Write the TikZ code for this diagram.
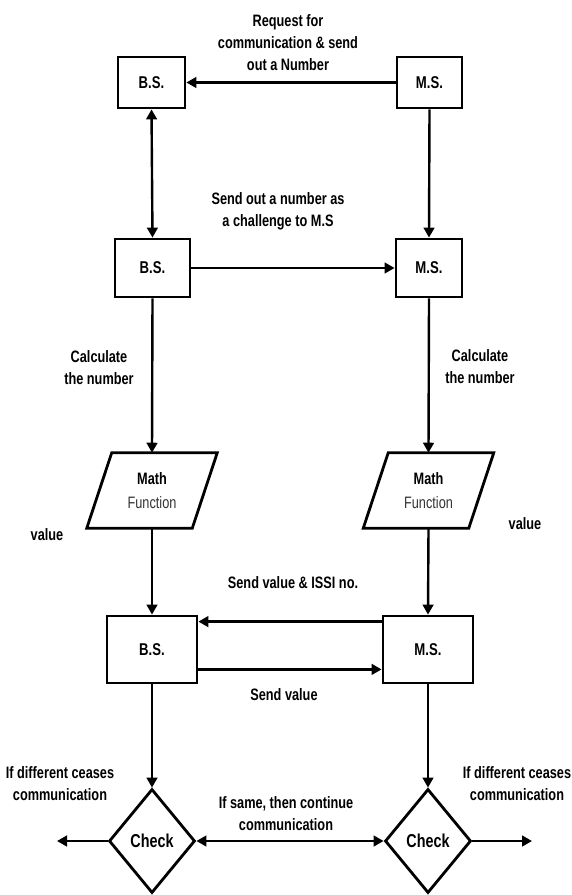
\documentclass[tikz,border=0pt]{standalone}
\usepackage{fontspec}
\setmainfont{Liberation Sans}[FakeStretch=0.77]
\usetikzlibrary{arrows.meta,shapes.geometric,calc}
\begin{document}
\begin{tikzpicture}[x=0.75pt,y=-0.75pt,
  font=\fontsize{12.4}{16.5}\selectfont\bfseries,
  outline/.style={draw, line width=2.1pt, line join=miter},
  box/.style={outline, inner sep=0pt, font=\fontsize{12.8}{15}\selectfont\bfseries},
  decision/.style={diamond, outline, inner sep=0pt, minimum width=64.5pt, minimum height=78pt,
    font=\fontsize{14}{16}\selectfont\bfseries},
  tip/.tip={Triangle[length=7.5pt,width=8pt]},
  arr/.style={line width=1.8pt, -tip},
  darr/.style={line width=1.8pt, tip-tip},
  lbl/.style={align=center, inner sep=0pt}]
\useasboundingbox (0,0) rectangle (571,895);

% first exchange: M.S. requests, B.S. answers
\node[box, minimum width=50.25pt, minimum height=38.25pt] (bs1) at (151.5,82.5) {B.S.};
\node[box, minimum width=48.75pt, minimum height=38.25pt] (ms1) at (429.5,82.5) {M.S.};
\node[box, minimum width=56.25pt, minimum height=43.5pt] (bs2) at (152.5,268) {B.S.};
\node[box, minimum width=49.5pt, minimum height=43.5pt] (ms2) at (429,268) {M.S.};

\draw[arr] (ms1.west) -- (bs1.east);
\draw[darr] (bs1.south) -- (bs2.north);
\draw[arr] (ms1.south) -- (ms2.north);
\draw[arr] (bs2.east) -- (ms2.west);

\node[lbl] (req) at (288,43) {Request for\\communication \& send\\out a Number};
\node[lbl] (chal) at (278,211.5) {Send out a number as\\a challenge to M.S};

% math function blocks (parallelograms)
\foreach \n/\cx in {mf1/152, mf2/428.5} {
  \node[lbl, minimum width=78.75pt, minimum height=56.25pt,
        font=\fontsize{12.4}{18}\selectfont\bfseries] (\n) at (\cx,490.5)
        {Math\\{\mdseries\color{black!80}Function}};
  \draw[outline] ($(\n.north west)+(12.5,0)$) -- ($(\n.north east)+(12.5,0)$)
    -- ($(\n.south east)+(-12.5,0)$) -- ($(\n.south west)+(-12.5,0)$) -- cycle;
}

\draw[arr] (bs2.south) -- (mf1.north);
\draw[arr] (ms2.south) -- (mf2.north);
\node[lbl] (calcL) at (99,368) {Calculate\\the number};
\node[lbl] (calcR) at (480,366.5) {Calculate\\the number};
\node[lbl] (valL) at (47,535) {value};
\node[lbl] (valR) at (525,524) {value};

% value exchange
\node[box, minimum width=67.5pt, minimum height=50.25pt] (bs3) at (152,649.5) {B.S.};
\node[box, minimum width=67.5pt, minimum height=50.25pt] (ms3) at (428,649.5) {M.S.};
\draw[arr] (mf1.south) -- (bs3.north);
\draw[arr] (mf2.south) -- (ms3.north);
\draw[arr] ([yshift=-5.25pt]ms3.north west) -- ([yshift=-5.25pt]bs3.north east);
\draw[arr] ([yshift=11.25pt]bs3.south east) -- ([yshift=11.25pt]ms3.south west);
\node[lbl] (sendISSI) at (293,583) {Send value \& ISSI no.};
\node[lbl] (sendVal) at (284,695) {Send value};

% checks
\node[decision] (chk1) at (152,841) {Check};
\node[decision] (chk2) at (428,841) {Check};
\coordinate (outL) at (57,841);
\coordinate (outR) at (532,841);
\draw[arr] (bs3.south) -- (chk1.north);
\draw[arr] (ms3.south) -- (chk2.north);
\draw[darr] (chk1.east) -- (chk2.west);
\draw[arr] (chk1.west) -- (outL);
\draw[arr] (chk2.east) -- (outR);

\node[lbl] (diffL) at (60,784) {If different ceases\\communication};
\node[lbl] (diffR) at (517,784) {If different ceases\\communication};
\node[lbl] (same) at (286,813.5) {If same, then continue\\communication};
\end{tikzpicture}
\end{document}
